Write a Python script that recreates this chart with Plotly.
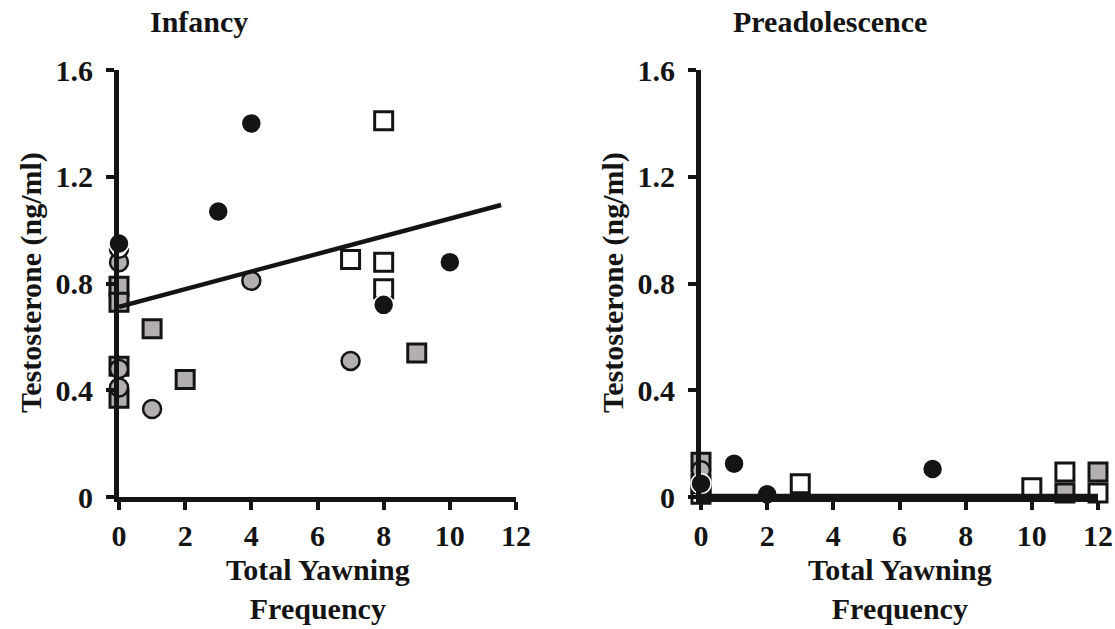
import plotly.graph_objects as go

# ---------------- data ----------------
# Infancy panel
inf_black_x = [0, 3, 4, 8, 10]
inf_black_y = [0.95, 1.07, 1.40, 0.72, 0.88]
inf_ring_x = [0]
inf_ring_y = [0.93]
inf_greyc_x = [0, 4, 0, 0, 1, 7]
inf_greyc_y = [0.88, 0.81, 0.48, 0.41, 0.33, 0.51]
inf_greys_x = [0, 0, 1, 2, 0, 0, 9]
inf_greys_y = [0.79, 0.73, 0.63, 0.44, 0.49, 0.37, 0.54]
inf_white_x = [8, 7, 8, 8]
inf_white_y = [1.41, 0.89, 0.88, 0.78]
inf_fit_x = [0, 11.55]
inf_fit_y = [0.713, 1.094]

# Preadolescence panel
pre_black_x = [0, 1, 2, 7]
pre_black_y = [0.05, 0.125, 0.01, 0.105]
pre_greyc_x = [0]
pre_greyc_y = [0.10]
pre_greys_x = [0, 11, 12]
pre_greys_y = [0.13, 0.015, 0.094]
pre_white_x = [0, 0, 3, 10, 11, 12]
pre_white_y = [0.01, 0.05, 0.05, 0.035, 0.094, 0.015]
pre_fit_x = [0, 12]
pre_fit_y = [0.004, 0.004]

x_ticks = [0, 2, 4, 6, 8, 10, 12]
y_ticks = [0, 0.4, 0.8, 1.2, 1.6]
y_tick_text = ["0", "0.4", "0.8", "1.2", "1.6"]

panel_titles = ["Infancy", "Preadolescence"]
x_title = "Total Yawning<br>Frequency"
y_title = "Testosterone (ng/ml)"

# ---------------- styling ----------------
W, H = 1115, 629
INK = "#141414"
GREY = "#b4afaf"
FONT = "Liberation Serif"
FS = 30

def px_x(p):
    return p / W

def px_y(p):
    return 1 - p / H

fig = go.Figure()

def add_panel(xa, ya, greys, white, greyc, ring, black, fit):
    sq = dict(symbol="square", size=18, line=dict(color=INK, width=3))
    ci = dict(symbol="circle", size=18, line=dict(color=INK, width=2.5))
    fig.add_trace(go.Scatter(x=greys[0], y=greys[1], mode="markers", xaxis=xa, yaxis=ya,
                             marker=dict(color=GREY, **sq), cliponaxis=False))
    fig.add_trace(go.Scatter(x=white[0], y=white[1], mode="markers", xaxis=xa, yaxis=ya,
                             marker=dict(color="white", **sq), cliponaxis=False))
    fig.add_trace(go.Scatter(x=greyc[0], y=greyc[1], mode="markers", xaxis=xa, yaxis=ya,
                             marker=dict(color=GREY, **ci), cliponaxis=False))
    if ring is not None:
        fig.add_trace(go.Scatter(x=ring[0], y=ring[1], mode="markers", xaxis=xa, yaxis=ya,
                                 marker=dict(color="white", **ci), cliponaxis=False))
    fig.add_trace(go.Scatter(x=black[0], y=black[1], mode="markers", xaxis=xa, yaxis=ya,
                             marker=dict(color=INK, symbol="circle", size=20,
                                         line=dict(color="white", width=1.5)),
                             cliponaxis=False))
    fig.add_trace(go.Scatter(x=fit[0], y=fit[1], mode="lines", xaxis=xa, yaxis=ya,
                             line=dict(color=INK, width=4.5), cliponaxis=False))

add_panel("x", "y", (inf_greys_x, inf_greys_y), (inf_white_x, inf_white_y),
          (inf_greyc_x, inf_greyc_y), (inf_ring_x, inf_ring_y),
          (inf_black_x, inf_black_y), (inf_fit_x, inf_fit_y))
add_panel("x2", "y2", (pre_greys_x, pre_greys_y), (pre_white_x, pre_white_y),
          (pre_greyc_x, pre_greyc_y), None,
          (pre_black_x, pre_black_y), (pre_fit_x, pre_fit_y))

tickfont = dict(family=FONT, size=FS, color=INK, weight="bold")

def xaxis(dom, anchor):
    return dict(domain=dom, range=[0, 12], anchor=anchor, tickvals=x_ticks,
                ticks="outside", ticklen=8, tickwidth=4, tickcolor=INK,
                showline=True, linecolor=INK, linewidth=5, showgrid=False,
                zeroline=False, tickfont=tickfont, ticklabelstandoff=0,
                fixedrange=True, automargin=False)

def yaxis(dom, anchor):
    return dict(domain=dom, range=[0, 1.6], anchor=anchor, tickvals=y_ticks,
                ticktext=y_tick_text, ticks="outside", ticklen=8, tickwidth=4,
                tickcolor=INK, showline=True, linecolor=INK, linewidth=5,
                showgrid=False, zeroline=False, tickfont=tickfont,
                ticklabelstandoff=7, fixedrange=True, automargin=False)

ydom = [px_y(497), px_y(70)]

fig.update_layout(
    width=W, height=H, autosize=False,
    margin=dict(l=0, r=0, t=0, b=0, pad=0, autoexpand=False),
    paper_bgcolor="white", plot_bgcolor="white",
    showlegend=False,
    xaxis=xaxis([px_x(119), px_x(516)], "y"),
    yaxis=yaxis(ydom, "x"),
    xaxis2=xaxis([px_x(701), px_x(1098)], "y2"),
    yaxis2=yaxis(ydom, "x2"),
)

annfont = dict(family=FONT, size=FS, color=INK)
annotations = [
    dict(text="<b>%s</b>" % panel_titles[0], x=px_x(199), y=px_y(22)),
    dict(text="<b>%s</b>" % panel_titles[1], x=px_x(830), y=px_y(22)),
    dict(text="<b>%s</b>" % x_title, x=px_x(318), y=px_y(589)),
    dict(text="<b>%s</b>" % x_title, x=px_x(900), y=px_y(589)),
    dict(text="<b>%s</b>" % y_title, x=px_x(31), y=px_y(283), textangle=-90),
    dict(text="<b>%s</b>" % y_title, x=px_x(613), y=px_y(283), textangle=-90),
]
for a in annotations:
    a.update(xref="paper", yref="paper", showarrow=False, font=annfont,
             xanchor="center", yanchor="middle")
fig.update_layout(annotations=annotations)

fig.write_html("out.html")
